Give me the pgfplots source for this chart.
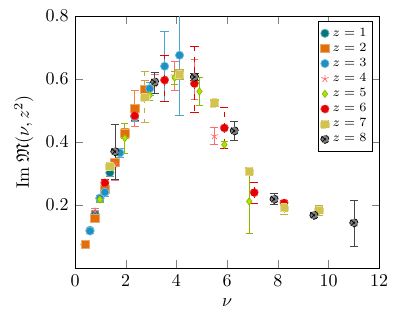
\documentclass[border=0pt]{standalone}
\usepackage{pgfplots}
\pgfplotsset{compat=1.18}
\usepackage{amssymb}
\definecolor{c1}{RGB}{0,120,125}
\definecolor{c2}{RGB}{225,110,10}
\definecolor{c3}{RGB}{30,145,195}
\definecolor{c4}{RGB}{255,110,110}
\definecolor{c5}{RGB}{175,230,0}
\definecolor{c6}{RGB}{230,0,0}
\definecolor{c7}{RGB}{210,195,80}
\definecolor{c8}{RGB}{70,70,70}
\begin{document}
\begin{tikzpicture}
\begin{axis}[name=ax,
  scale only axis, width=169pt, height=140pt,
  xmin=0, xmax=12, ymin=0, ymax=0.8,
  xtick={0,2,4,6,8,10,12}, ytick={0.2,0.4,0.6,0.8},
  yticklabel style={/pgf/number format/fixed,/pgf/number format/precision=1},
  xlabel={$\nu$}, ylabel={$\mathrm{Im}\;\mathfrak{M}(\nu,z^2)$},
  legend style={at={(0.98,0.98)}, anchor=north east, font=\scriptsize, row sep=-1.6pt, inner sep=1.5pt},
  legend cell align=left,
  error bars/y dir=both, error bars/y explicit,
]
\addplot+[only marks, mark=*, mark size=2.3pt, color=c1, mark options={fill=c1, draw=c1!60}, error bars/error bar style={solid, c1!70}]
 coordinates {(0.393,0.075)+-(0,0.005) (0.589,0.12)+-(0,0.005) (0.785,0.172)+-(0,0.008) (0.982,0.222)+-(0,0.01) (1.178,0.262)+-(0,0.01) (1.374,0.303)+-(0,0.01)};
\addlegendentry{$z=1$}
\addplot+[only marks, mark=square*, mark size=2.3pt, color=c2, mark options={fill=c2, draw=c2!60}, error bars/error bar style={solid, c2!80}]
 coordinates {(0.393,0.075)+-(0,0.005) (0.785,0.158)+-(0,0.01) (1.178,0.249)+-(0,0.01) (1.571,0.337)+-(0,0.01) (1.963,0.428)+-(0,0.015) (2.356,0.508)+=(0,0.057)-=(0,0.04) (2.749,0.567)+-(0,0.03)};
\addlegendentry{$z=2$}
\addplot+[only marks, mark=*, mark size=2.3pt, color=c3, mark options={fill=c3, draw=c3!60}, error bars/error bar style={solid, c3!80}]
 coordinates {(0.589,0.118)+-(0,0.008) (0.982,0.222)+-(0,0.008) (1.178,0.241)+-(0,0.012) (1.767,0.366)+-(0,0.015) (2.356,0.48)+-(0,0.015) (2.945,0.570)+-(0,0.02) (3.534,0.641)+-(0,0.11) (4.123,0.676)+-(0,0.192)};
\addlegendentry{$z=3$}
\addplot+[only marks, mark=star, mark size=2.2pt, color=c4, mark options={draw=c4}, error bars/error bar style={solid, c4}]
 coordinates {(0.785,0.18)+-(0,0.01) (1.571,0.33)+-(0,0.05) (2.356,0.48)+-(0,0.03) (3.142,0.585)+-(0,0.03) (3.927,0.61)+-(0,0.046) (4.712,0.60)+-(0,0.064) (5.498,0.42)+-(0,0.028)};
\addlegendentry{$z=4$}
\addplot+[only marks, mark=diamond*, mark size=2pt, color=c5, mark options={fill=c5, draw=c5!80!black}, error bars/error bar style={solid, c5!80!black}]
 coordinates {(0.982,0.218)+-(0,0.008) (1.963,0.413)+=(0,0.048)-=(0,0.05) (2.945,0.549)+-(0,0.015) (3.927,0.605)+-(0,0.02) (4.909,0.561)+-(0,0.044) (5.890,0.392)+-(0,0.012) (6.872,0.212)+=(0,0.095)-=(0,0.102)};
\addlegendentry{$z=5$}
\addplot+[only marks, mark=*, mark size=2.3pt, color=c6, mark options={fill=c6, draw=c6!70}, error bars/error bar style={c6, dashed}]
 coordinates {(1.178,0.271)+-(0,0.01) (2.356,0.484)+-(0,0.015) (3.534,0.597)+=(0,0.078)-=(0,0.068) (4.712,0.586)+=(0,0.118)-=(0,0.092) (5.890,0.445)+-(0,0.065) (7.069,0.24)+=(0,0.031)-=(0,0.033) (8.247,0.207)+-(0,0.008)};
\addlegendentry{$z=6$}
\addplot+[only marks, mark=square*, mark size=2.3pt, color=c7, mark options={fill=c7, draw=c7!60}, error bars/error bar style={c7!90!black, dashed}]
 coordinates {(1.374,0.323)+-(0,0.01) (2.749,0.543)+=(0,0.082)-=(0,0.081) (4.123,0.615)+-(0,0.015) (5.498,0.525)+-(0,0.01) (6.872,0.307)+-(0,0.01) (8.247,0.192)+=(0,0.01)-=(0,0.021) (9.621,0.184)+-(0,0.015)};
\addlegendentry{$z=7$}
\addplot+[only marks, mark=otimes*, mark size=2.3pt, color=c8, mark options={fill=c8!70, draw=black}, error bars/error bar style={solid, c8}]
 coordinates {(1.571,0.37)+=(0,0.086)-=(0,0.089) (3.142,0.591)+=(0,0.031)-=(0,0.036) (4.712,0.607)+-(0,0.01) (6.283,0.436)+-(0,0.029) (7.854,0.219)+=(0,0.018)-=(0,0.016) (9.425,0.168)+-(0,0.008) (11.0,0.144)+=(0,0.071)-=(0,0.074)};
\addlegendentry{$z=8$}
\end{axis}
\path (ax.south west) ++(-41.7pt,-26.7pt);
\path (ax.north east) ++(11pt,9pt);
\end{tikzpicture}
\end{document}
